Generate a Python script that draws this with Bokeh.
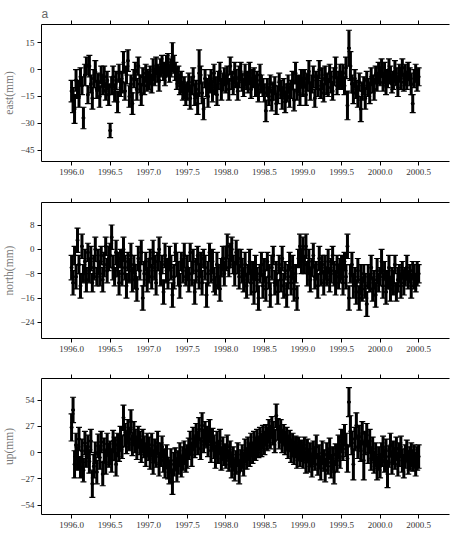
from bokeh.plotting import figure
from bokeh.models import (ColumnDataSource, Whisker, TeeHead, LinearAxis, FixedTicker,
                          PrintfTickFormatter, Range1d)
from bokeh.layouts import column
from bokeh.embed import file_html
from bokeh.resources import INLINE

# weekly samples, 26 per half-year, 1996.0 .. 2000.5
EAST_VALUES = [
    -12, -17, -22, -6, -11, -15, -4, -9, -27, -3, 2, -14, 2, -8, -16, -5, -1, -11, -7, -15, -3, -9, -4, -12, -6, -14,
    -34, -9, -4, -13, -6, -18, -2, -10, -7, 4, -12, -3, 5, -15, -8, -19, -5, -1, -11, 2, -8, -14, -4, -9, -2, -6,
    -6, -3, -8, 0, -4, 2, -2, -6, 1, 3, -1, -4, 2, 4, -2, 1, 7, 3, -1, -5, -3, -9, -7, -12, -10, -14,
    -12, -7, -16, -9, -4, -14, -11, -19, -2, -3, -13, -22, -5, -10, -15, -8, -5, -12, -2, -9, -14, -6, -1, -11, -7, -4,
    -8, -3, -11, 2, -6, -9, -2, -5, -12, -4, -1, -7, -10, -3, -6, -8, -2, -11, -5, -4, -9, -6, -13, -3, -8, -10,
    -13, -23, -10, -15, -8, -17, -12, -9, -19, -14, -7, -11, -16, -10, -18, -13, -8, -15, -11, -6, -17, -2, -12, -8, -14, -5,
    -10, -5, -14, -7, -1, -12, -8, -4, -16, -6, -9, 0, -11, -5, -13, -3, -8, -10, -2, -7, -12, -4, 1, -9, -6, -3,
    -6, -2, -9, 1, -20, 12, 2, -8, -13, -5, -11, -15, -7, -22, -12, -9, -16, -6, -10, -13, -4, -8, -11, -3, -7, -2,
    -4, 1, -7, -2, -9, -5, 0, -3, -8, -6, -1, -4, -10, -2, -5, 1, -7, -3, -6, -1, -4, -8, -19, -5, -2, -6,
    -4,
]
EAST_ERRORS = [
    6, 7, 8, 6, 5, 6, 5, 5, 6, 6, 5, 5, 6, 5, 6, 5, 6, 5, 5, 6, 5, 5, 6, 5, 5, 6,
    4, 5, 6, 5, 5, 6, 5, 5, 6, 6, 5, 5, 6, 6, 5, 6, 5, 5, 6, 5, 5, 6, 5, 5, 5, 6,
    5, 5, 5, 6, 5, 5, 5, 6, 5, 5, 5, 5, 6, 5, 5, 5, 8, 5, 5, 6, 5, 5, 6, 5, 6, 6,
    5, 5, 6, 5, 5, 6, 5, 6, 13, 5, 6, 6, 5, 5, 6, 5, 5, 6, 5, 5, 6, 5, 5, 6, 5, 5,
    5, 5, 6, 5, 5, 5, 6, 5, 5, 6, 5, 5, 5, 6, 5, 5, 6, 5, 5, 5, 6, 5, 5, 6, 5, 5,
    5, 6, 5, 5, 5, 6, 5, 5, 6, 5, 5, 5, 6, 5, 6, 5, 5, 6, 5, 5, 6, 6, 5, 5, 6, 5,
    5, 5, 6, 5, 6, 5, 5, 6, 5, 5, 6, 5, 5, 6, 5, 5, 6, 5, 5, 6, 5, 5, 6, 5, 5, 6,
    5, 5, 5, 6, 8, 10, 8, 5, 6, 5, 5, 6, 5, 7, 5, 5, 6, 5, 5, 6, 5, 5, 6, 5, 5, 6,
    5, 5, 5, 6, 5, 5, 6, 5, 5, 5, 6, 5, 5, 5, 6, 5, 5, 6, 5, 5, 5, 6, 5, 5, 5, 6,
    5,
]
NORTH_VALUES = [
    -6, -11, -2, -9, 3, -5, -12, 1, -8, -4, -10, -1, -7, -3, -11, -6, 0, -9, -4, -8, -2, -10, -5, 1, -7, -3,
    -2, 4, -6, -9, -1, -5, -11, -3, -8, 0, -6, -12, -4, -7, -2, -10, -5, -9, -13, -3, -7, -1, -16, -8, -4, -10,
    -7, -3, -9, -1, -6, -11, -4, 0, -8, -5, -14, -2, -7, -10, -3, -6, -15, -9, -1, -5, -8, -12, -4, -7, -2, -9,
    -6, -10, -1, -8, -4, -14, -7, -2, -9, -5, -11, -3, -6, -15, -8, -1, -7, -4, -10, -12, -5, -9, -13, -6, -3, -8,
    -3, 1, -6, -2, 0, -5, -8, -1, -4, -9, -3, -7, -10, -5, -12, -8, -4, -11, -7, -14, -6, -10, -16, -8, -5, -12,
    -7, -13, -4, -9, -15, -6, -2, -11, -8, -14, -5, -10, -3, -12, -7, -15, -9, -4, -11, -6, -13, -8, -16, -3, 1, -4,
    0, -5, 1, -8, -4, -10, -6, -2, -9, -7, -12, -3, -8, -5, -11, -6, -9, -4, -10, -7, -2, -8, -11, -5, -9, -7,
    -6, -11, -4, -9, 1, -16, -8, -5, -12, -9, -14, -7, -16, -10, -13, -8, -12, -18, -9, -11, -6, -13, -10, -15, -7, -11,
    -9, -4, -12, -7, -14, -10, -6, -13, -9, -11, -5, -14, -10, -8, -12, -7, -11, -9, -6, -10, -8, -12, -7, -9, -11, -8,
    -8,
]
NORTH_ERRORS = [
    4, 4, 3, 4, 4, 3, 4, 4, 3, 4, 4, 3, 4, 4, 3, 4, 4, 3, 4, 4, 3, 4, 4, 3, 4, 4,
    4, 4, 4, 3, 4, 4, 4, 3, 4, 4, 4, 4, 3, 4, 4, 4, 3, 4, 4, 4, 3, 4, 4, 4, 3, 4,
    4, 3, 4, 4, 4, 4, 3, 4, 4, 3, 4, 4, 4, 3, 4, 4, 4, 4, 3, 4, 4, 4, 3, 4, 4, 3,
    4, 4, 3, 4, 4, 4, 4, 3, 4, 4, 4, 3, 4, 4, 4, 3, 4, 4, 4, 3, 4, 4, 4, 3, 4, 4,
    4, 4, 3, 4, 4, 3, 4, 4, 4, 4, 3, 4, 4, 4, 4, 3, 4, 4, 3, 4, 4, 4, 4, 3, 4, 4,
    4, 4, 3, 4, 4, 4, 3, 4, 4, 4, 3, 4, 4, 4, 3, 4, 4, 3, 4, 4, 4, 3, 4, 3, 4, 4,
    4, 3, 4, 4, 4, 4, 3, 4, 4, 3, 4, 4, 4, 3, 4, 4, 3, 4, 4, 4, 3, 4, 4, 3, 4, 4,
    4, 4, 3, 4, 4, 4, 3, 4, 4, 3, 4, 4, 4, 5, 4, 3, 4, 4, 4, 3, 4, 4, 3, 4, 4, 3,
    3, 4, 4, 3, 4, 3, 4, 4, 3, 4, 3, 3, 4, 3, 4, 3, 4, 3, 4, 3, 3, 4, 3, 4, 3, 4,
    3,
]
UP_VALUES = [
    26, 44, -12, 8, -6, 14, -15, 2, -18, 10, -4, 6, -9, 12, -32, -14, 0, -20, 7, -5, 11, -22, 3, -10, 9, -3,
    0, -8, 12, 4, -12, 8, 2, 15, 6, 36, 18, 10, 22, 14, 32, 8, 20, 12, 5, 16, 10, 2, 12, 6, -2, 8,
    4, -6, 8, -10, 2, -4, 10, -12, -2, 6, -8, -14, -4, -16, -20, -8, -30, -12, -6, -18, -10, -2, -14, -6, 0, -8,
    -4, 4, 10, -2, 14, 6, 18, 10, 24, 4, 28, 12, 20, 16, 8, 22, 2, 14, 6, -4, 10, 0, 12, -6, 4, -2,
    -4, 6, -8, 0, -14, -6, -18, -10, -2, -20, -8, -4, -12, 2, -6, 4, -2, 8, 0, 10, 4, 12, 6, 14, 8, 16,
    10, 18, 14, 22, 16, 26, 20, 12, 38, 24, 16, 22, 12, 18, 10, 14, 6, 12, 2, 8, 0, 6, -4, 4, -2, 2,
    -4, 4, -10, 2, -8, -2, -14, 0, -6, 6, -12, -4, -16, 0, -8, -18, -2, -10, 4, -14, -6, -20, -2, -8, 6, -4,
    12, 4, 18, 8, -6, 52, 22, 10, -12, 14, 28, 6, 16, 2, 20, -8, 10, 18, 0, 12, -6, 4, -10, -2, -16, -6,
    -14, -2, 6, -8, 2, -22, -4, 8, -10, 0, -6, 4, -12, -2, 6, -8, -14, -4, 2, -10, -6, -2, -8, -4, -12, -6,
    -4,
]
UP_ERRORS = [
    14, 13, 14, 12, 12, 12, 11, 12, 12, 12, 11, 12, 12, 12, 14, 12, 11, 12, 12, 12, 11, 12, 12, 12, 11, 12,
    12, 12, 11, 12, 12, 12, 11, 12, 12, 13, 12, 11, 12, 12, 12, 11, 12, 12, 12, 11, 12, 12, 12, 11, 12, 12,
    12, 11, 12, 12, 12, 11, 12, 12, 12, 11, 12, 12, 12, 11, 12, 12, 13, 12, 11, 12, 12, 12, 11, 12, 12, 12,
    12, 11, 12, 12, 12, 11, 12, 12, 12, 11, 13, 12, 12, 11, 12, 12, 12, 11, 12, 12, 12, 11, 12, 12, 12, 11,
    12, 12, 11, 12, 12, 12, 11, 12, 12, 12, 11, 12, 12, 12, 11, 12, 12, 12, 11, 12, 12, 12, 11, 12, 12, 12,
    12, 11, 12, 12, 12, 11, 12, 12, 12, 11, 12, 12, 12, 11, 12, 12, 12, 11, 12, 12, 12, 11, 12, 12, 12, 11,
    12, 12, 11, 12, 12, 12, 11, 12, 12, 12, 11, 12, 12, 12, 11, 12, 12, 12, 11, 12, 12, 12, 11, 12, 12, 12,
    12, 12, 11, 12, 14, 15, 16, 12, 16, 12, 13, 12, 12, 11, 12, 20, 12, 12, 11, 12, 12, 12, 11, 12, 12, 12,
    12, 12, 11, 12, 12, 14, 11, 12, 12, 12, 11, 12, 12, 12, 11, 12, 12, 12, 11, 12, 12, 12, 11, 12, 12, 12,
    12,
]

X_TICKS = [1996.0, 1996.5, 1997.0, 1997.5, 1998.0, 1998.5, 1999.0, 1999.5, 2000.0, 2000.5]
EAST_TICKS = [-45, -30, -15, 0, 15]
NORTH_TICKS = [-24, -16, -8, 0, 8]
UP_TICKS = [-54, -27, 0, 27, 54]

SERIF = "Liberation Serif"


def style_axis(ax):
    ax.axis_line_color = "black"
    ax.axis_line_width = 1
    ax.major_tick_line_color = "black"
    ax.major_tick_out = 4
    ax.major_tick_in = 0
    ax.minor_tick_out = 0
    ax.minor_tick_in = 0
    ax.major_label_text_font = SERIF
    ax.major_label_text_font_size = "9px"
    ax.major_label_text_color = "#333333"
    ax.major_label_standoff = 3


def make_panel(vals, errs, ylabel, yticks, yr, height, top, bottom, letter=None):
    n = min(len(vals), len(errs))
    vals = vals[:n]
    errs = errs[:n]
    t = [1996.0 + i / 52.0 for i in range(n)]
    lo = [v - e for v, e in zip(vals, errs)]
    hi = [v + e for v, e in zip(vals, errs)]
    src = ColumnDataSource(dict(t=t, v=vals, lo=lo, hi=hi))
    p = figure(width=458, height=height, x_range=Range1d(1995.61, 2000.9),
               y_range=Range1d(*yr), output_backend="svg", toolbar_location=None,
               min_border_left=41, min_border_right=9, min_border_top=top,
               min_border_bottom=bottom)
    p.xgrid.visible = False
    p.ygrid.visible = False
    p.outline_line_color = None
    p.background_fill_color = "white"
    p.border_fill_color = "white"
    if letter:
        p.title.text = letter
        p.title.align = "left"
        p.title.offset = 0
        p.title.standoff = 0
        p.title.vertical_align = "bottom"
        p.title.text_font = "Liberation Sans"
        p.title.text_font_size = "12px"
        p.title.text_font_style = "normal"
        p.title.text_color = "#666666"

    w = Whisker(base="t", lower="lo", upper="hi", source=src, line_color="black",
                line_width=3,
                upper_head=TeeHead(size=6, line_color="black", line_width=1.2),
                lower_head=TeeHead(size=6, line_color="black", line_width=1.2))
    p.add_layout(w)
    p.scatter("t", "v", source=src, size=3, color="black")

    xa = p.xaxis[0]
    xa.ticker = FixedTicker(ticks=X_TICKS)
    xa.formatter = PrintfTickFormatter(format="%.1f")
    style_axis(xa)

    # top axis: ticks only, labels not painted
    top_axis = LinearAxis(ticker=FixedTicker(ticks=X_TICKS),
                          formatter=PrintfTickFormatter(format="%.1f"))
    style_axis(top_axis)
    top_axis.major_label_text_font_size = "1px"
    top_axis.major_label_text_color = None
    top_axis.major_label_standoff = 0
    p.add_layout(top_axis, "above")

    ya = p.yaxis[0]
    ya.ticker = FixedTicker(ticks=yticks)
    style_axis(ya)
    ya.axis_label = ylabel
    ya.axis_label_text_font = SERIF
    ya.axis_label_text_font_size = "11.5px"
    ya.axis_label_text_font_style = "normal"
    ya.axis_label_text_color = "#777777"
    ya.axis_label_standoff = 2
    return p


p1 = make_panel(EAST_VALUES, EAST_ERRORS, "east(mm)", EAST_TICKS, (-51.3, 25.2), 180, 24, 19, "a")
p2 = make_panel(NORTH_VALUES, NORTH_ERRORS, "north(mm)", NORTH_TICKS, (-29.3, 15.4), 176, 22, 18)
p3 = make_panel(UP_VALUES, UP_ERRORS, "up(mm)", UP_TICKS, (-63.6, 76.3), 180, 22, 22)

layout = column(p1, p2, p3, spacing=0)
open("out.html", "w").write(file_html(layout, INLINE))
